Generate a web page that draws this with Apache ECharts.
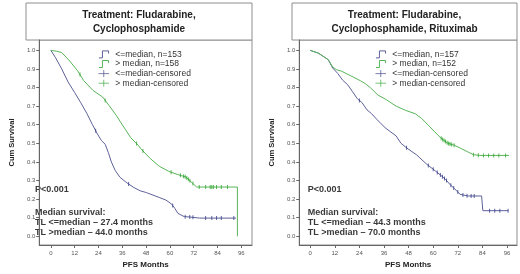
<!DOCTYPE html>
<html>
<head>
<meta charset="utf-8">
<script src="https://cdn.jsdelivr.net/npm/echarts@6/dist/echarts.min.js"></script>
<style>
  html, body { margin: 0; background: #fff; }
  #wrap { display: flex; width: 520px; height: 274px; }
  #left, #right { width: 260px; height: 274px; }
</style>
</head>
<body>
<div id="wrap"><div id="left"></div><div id="right"></div></div>
<script>
// Fludarabine + Cyclophosphamide
const fcLowT = [0, 2.4, 5.5, 8.7, 11.9, 15, 18.2, 21, 23.5, 25.5, 27.4, 29, 30.5, 32.4, 34.8, 38, 41.9, 45, 48.2, 54.6, 58, 60.9, 62.5, 64, 67.2, 70, 75, 93.3];
const fcLowS = [1.0, 0.96, 0.9, 0.83, 0.775, 0.72, 0.66, 0.6, 0.55, 0.515, 0.495, 0.45, 0.4, 0.355, 0.318, 0.29, 0.262, 0.245, 0.235, 0.209, 0.195, 0.173, 0.15, 0.124, 0.106, 0.104, 0.098, 0.098];
const fcHighT = [0, 3, 5.5, 9.5, 13.5, 16.6, 21.3, 26.1, 29.3, 33, 36, 40.3, 44, 45.1, 49.8, 54.6, 59.3, 64, 68, 71.2, 73.5, 94, 94];
const fcHighS = [1.0, 0.995, 0.988, 0.943, 0.89, 0.837, 0.784, 0.749, 0.704, 0.65, 0.6, 0.53, 0.49, 0.474, 0.421, 0.377, 0.35, 0.332, 0.319, 0.288, 0.265, 0.265, 0.0];
const fcLowCensor = [22.6, 39.2, 61.4, 67.7, 70, 71.6, 78, 81.1, 83.5, 85.9, 92.2];
const fcHighCensor = [14.7, 27.4, 43.2, 46.4, 60.6, 65.3, 66.9, 67.7, 68.5, 69.3, 70.1, 71.6, 74.8, 78, 80.3, 81.1, 81.9, 83.5, 85.9, 89];

// Fludarabine + Cyclophosphamide + Rituximab
const fcrLowT = [0, 4, 8.8, 11, 13.5, 15.8, 18.3, 20.5, 23, 25.2, 27.7, 29.9, 32.4, 34.6, 37, 41.9, 44.3, 47.2, 51.9, 56.6, 61, 63.5, 66.1, 68.5, 70, 73.1, 77, 83.6, 84.2, 96.7];
const fcrLowS = [1.0, 0.985, 0.95, 0.905, 0.875, 0.84, 0.815, 0.78, 0.74, 0.72, 0.68, 0.66, 0.63, 0.605, 0.58, 0.54, 0.5, 0.474, 0.438, 0.39, 0.352, 0.33, 0.305, 0.275, 0.26, 0.226, 0.217, 0.217, 0.138, 0.138];
const fcrHighT = [0, 4, 8.8, 11, 13, 15.1, 19.8, 24.6, 27, 29.3, 33, 37.1, 41.9, 46.6, 51.3, 54.4, 57.6, 60.7, 63.9, 67, 70.2, 73.3, 76.5, 79.6, 82.8, 96.9];
const fcrHighS = [1.0, 0.985, 0.95, 0.91, 0.895, 0.889, 0.863, 0.836, 0.82, 0.8, 0.76, 0.735, 0.7, 0.677, 0.659, 0.633, 0.598, 0.562, 0.527, 0.501, 0.49, 0.474, 0.456, 0.439, 0.435, 0.435];
const fcrLowCensor = [24, 47, 57.6, 60, 62, 63.5, 64.5, 65.5, 66.5, 68.6, 70, 72, 74.5, 76.5, 78.5, 80, 87.5, 90, 92.5, 96.5];
const fcrHighCensor = [63.9, 64.6, 65.3, 66, 66.8, 67.5, 68.2, 69, 70.2, 79.6, 82, 84.5, 87, 89.5, 92, 95.3];

const xTicks = [0, 12, 24, 36, 48, 60, 72, 84, 96];
const yTicks = [0.0, 0.1, 0.2, 0.3, 0.4, 0.5, 0.6, 0.7, 0.8, 0.9, 1.0];

const FONT = "'Liberation Sans', Arial, sans-serif";
const BLUE = "#5d6199";
const BLUE_MARK = "#3a3e8c";
const GREEN = "#58b458";
const GREEN_MARK = "#2fa52f";
const BORDER = "#8e8e8e";
const STEP_ICON = "path://M0,9L4,9L4,1L11,1L11,4";
const PLUS_ICON = "path://M0,5L12,5M6,1L6,9";

function zip(t, s) {
  return t.map((v, i) => [v, s[i]]);
}

// place censor marks on the drawn curve
function onCurve(times, t, s) {
  return times.map((x) => {
    for (let i = 1; i < t.length; i++) {
      if (x <= t[i]) {
        const span = t[i] - t[i - 1];
        const f = span > 0 ? (x - t[i - 1]) / span : 0;
        return [x, s[i - 1] + (s[i] - s[i - 1]) * f];
      }
    }
    return [x, s[s.length - 1]];
  });
}

function panelOptions(p) {
  const width = 260 - p.left - p.right;
  return {
    animation: false,
    textStyle: { fontFamily: FONT },
    grid: { left: p.left, right: p.right, top: 40, bottom: 26, show: true, borderColor: BORDER, borderWidth: 1 },
    graphic: [
      { type: "rect", shape: { x: p.left, y: 3, width: width, height: 37 }, style: { fill: "#fff", stroke: BORDER, lineWidth: 1 } },
      {
        type: "text", x: p.left + width / 2, y: 22,
        style: { text: p.title, textAlign: "center", textVerticalAlign: "middle", font: "bold 10px " + FONT, lineHeight: 14, fill: "#222" },
      },
      {
        type: "text", x: p.noteX, y: 190,
        style: { text: "P<0.001", textVerticalAlign: "middle", font: "bold 9px " + FONT, fill: "#3a3a3a" },
      },
      {
        type: "text", x: p.noteX, y: 207,
        style: { text: p.note, textVerticalAlign: "top", font: "bold 9px " + FONT, lineHeight: 10.3, fill: "#3a3a3a" },
      },
    ],
    legend: {
      orient: "vertical",
      left: p.legendLeft,
      top: 43.4,
      itemWidth: 13,
      itemHeight: 7,
      itemGap: -2.4,
      selectedMode: false,
      textStyle: { fontSize: 8.5, color: "#333" },
      data: [
        { name: p.lowName, icon: STEP_ICON, itemStyle: { color: "none", borderColor: BLUE, borderWidth: 1 } },
        { name: p.highName, icon: STEP_ICON, itemStyle: { color: "none", borderColor: GREEN, borderWidth: 1 } },
        { name: "<=median-censored", icon: PLUS_ICON, itemStyle: { color: "none", borderColor: BLUE, borderWidth: 1 } },
        { name: "> median-censored", icon: PLUS_ICON, itemStyle: { color: "none", borderColor: GREEN, borderWidth: 1 } },
      ],
    },
    xAxis: {
      type: "value",
      min: p.xMin,
      max: p.xMax,
      name: "PFS Months",
      nameLocation: "middle",
      nameGap: 16,
      nameTextStyle: { fontSize: 8, fontWeight: "bold", color: "#222" },
      axisLine: { show: true, onZero: false, lineStyle: { color: "#666" } },
      axisTick: { show: true, length: 3, customValues: xTicks, lineStyle: { color: "#666" } },
      axisLabel: { customValues: xTicks, fontSize: 6, color: "#555", margin: 5 },
      splitLine: { show: false },
    },
    yAxis: {
      type: "value",
      min: -0.0466,
      max: 1.0556,
      name: "Cum Survival",
      nameLocation: "middle",
      nameGap: 21,
      nameTextStyle: { fontSize: 7.5, fontWeight: "bold", color: "#222" },
      axisLine: { show: true, onZero: false, lineStyle: { color: "#666" } },
      axisTick: { show: true, length: 3, customValues: yTicks, lineStyle: { color: "#666" } },
      axisLabel: { customValues: yTicks, fontSize: 6, color: "#555", margin: 4, formatter: (v) => v.toFixed(1) },
      splitLine: { show: false },
    },
    series: [
      { name: p.lowName, type: "line", data: zip(p.lowT, p.lowS), symbol: "none", lineStyle: { color: BLUE, width: 1 }, itemStyle: { color: BLUE }, z: 2 },
      { name: p.highName, type: "line", data: zip(p.highT, p.highS), symbol: "none", lineStyle: { color: GREEN, width: 1 }, itemStyle: { color: GREEN }, z: 2 },
      { name: "<=median-censored", type: "scatter", data: onCurve(p.lowCensor, p.lowT, p.lowS), symbol: "rect", symbolSize: [1, 4], itemStyle: { color: BLUE_MARK }, z: 3 },
      { name: "> median-censored", type: "scatter", data: onCurve(p.highCensor, p.highT, p.highS), symbol: "rect", symbolSize: [1, 4], itemStyle: { color: GREEN_MARK }, z: 3 },
    ],
  };
}

const left = echarts.init(document.getElementById("left"));
left.setOption(panelOptions({
  left: 26, right: 8, xMin: -5.83, xMax: 101.36,
  title: "Treatment: Fludarabine,\nCyclophosphamide",
  noteX: 35,
  note: "Median survival:\nTL <=median \u2013 27.4 months\nTL >median \u2013 44.0 months",
  legendLeft: 91,
  lowName: "<=median, n=153", highName: "> median, n=158",
  lowT: fcLowT, lowS: fcLowS, highT: fcHighT, highS: fcHighS,
  lowCensor: fcLowCensor, highCensor: fcHighCensor,
}));

const right = echarts.init(document.getElementById("right"));
right.setOption(panelOptions({
  left: 32, right: 3, xMin: -5.33, xMax: 100.86,
  title: "Treatment: Fludarabine,\nCyclophosphamide, Rituximab",
  noteX: 47.7,
  note: "Median survival:\nTL <=median \u2013 44.3 months\nTL >median \u2013 70.0 months",
  legendLeft: 108,
  lowName: "<=median, n=157", highName: "> median, n=152",
  lowT: fcrLowT, lowS: fcrLowS, highT: fcrHighT, highS: fcrHighS,
  lowCensor: fcrLowCensor, highCensor: fcrHighCensor,
}));
</script>
</body>
</html>
